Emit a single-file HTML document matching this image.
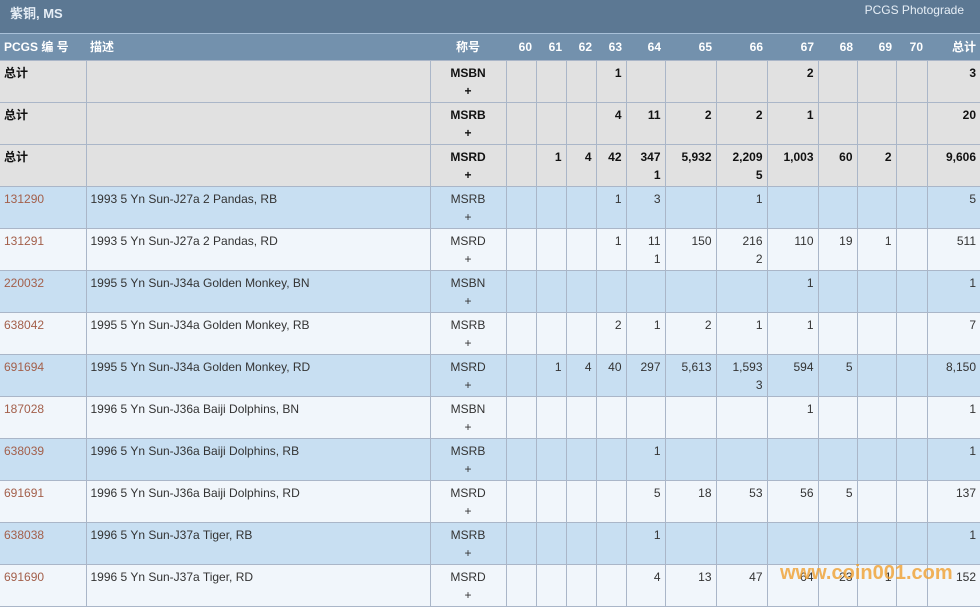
<!DOCTYPE html>
<html><head><meta charset="utf-8"><style>
body{margin:0;width:980px;height:606px;overflow:hidden;background:#f1f6fb;font-family:"Liberation Sans","Noto Sans CJK SC",sans-serif;font-size:12px;color:#333;position:relative}
.title{position:absolute;left:0;top:0;width:980px;height:34px;background:#5c7893;border-bottom:1px solid #a8c0d8;box-sizing:border-box}
.title .l{position:absolute;left:10px;top:3px;color:#e6eef6;font-weight:bold;font-size:13px}
.title .r{position:absolute;right:16px;top:3px;color:#e6eef6;font-size:12px}
table{position:absolute;left:0;top:34px;border-collapse:collapse;table-layout:fixed;width:980px}
th{background:#7391ad;color:#fff;height:26px;padding:0 4px;font-size:12px;text-align:right;vertical-align:middle;box-sizing:border-box}
th.l{text-align:left}th.c{text-align:center}
td{height:42px;box-sizing:border-box;border:1px solid #aab6c8;vertical-align:top;padding:3px 4px 0;text-align:right;line-height:18px}
tr.t td{background:#e1e1e1;font-weight:bold;color:#111}
tr.b td{background:#c8dff2}
tr.w td{background:#f1f6fb}
td.l{text-align:left}td.c{text-align:center}
td.a{color:#a35f4a}
td:first-child{border-left:none}td:last-child{border-right:none}
.wm{position:absolute;left:780px;top:562px;color:#f0a030;font-size:20px;font-weight:bold;opacity:.8}
</style></head><body>
<div class="title"><span class="l">紫铜, MS</span><span class="r">PCGS Photograde</span></div>
<table>
<colgroup><col style="width:86px"><col style="width:344px"><col style="width:76px"><col style="width:30px"><col style="width:30px"><col style="width:30px"><col style="width:30px"><col style="width:39px"><col style="width:51px"><col style="width:51px"><col style="width:51px"><col style="width:39px"><col style="width:39px"><col style="width:31px"><col style="width:53px"></colgroup>
<tr><th class="l">PCGS 编 号</th><th class="l">描述</th><th class="c">称号</th><th>60</th><th>61</th><th>62</th><th>63</th><th>64</th><th>65</th><th>66</th><th>67</th><th>68</th><th>69</th><th>70</th><th>总计</th></tr>
<tr class="t"><td class="l">总计</td><td></td><td class="c">MSBN<br>+</td><td></td><td></td><td></td><td>1</td><td></td><td></td><td></td><td>2</td><td></td><td></td><td></td><td>3</td></tr>
<tr class="t"><td class="l">总计</td><td></td><td class="c">MSRB<br>+</td><td></td><td></td><td></td><td>4</td><td>11</td><td>2</td><td>2</td><td>1</td><td></td><td></td><td></td><td>20</td></tr>
<tr class="t"><td class="l">总计</td><td></td><td class="c">MSRD<br>+</td><td></td><td>1</td><td>4</td><td>42</td><td>347<br>1</td><td>5,932</td><td>2,209<br>5</td><td>1,003</td><td>60</td><td>2</td><td></td><td>9,606</td></tr>
<tr class="b"><td class="l a">131290</td><td class="l">1993 5 Yn Sun-J27a 2 Pandas, RB</td><td class="c">MSRB<br>+</td><td></td><td></td><td></td><td>1</td><td>3</td><td></td><td>1</td><td></td><td></td><td></td><td></td><td>5</td></tr>
<tr class="w"><td class="l a">131291</td><td class="l">1993 5 Yn Sun-J27a 2 Pandas, RD</td><td class="c">MSRD<br>+</td><td></td><td></td><td></td><td>1</td><td>11<br>1</td><td>150</td><td>216<br>2</td><td>110</td><td>19</td><td>1</td><td></td><td>511</td></tr>
<tr class="b"><td class="l a">220032</td><td class="l">1995 5 Yn Sun-J34a Golden Monkey, BN</td><td class="c">MSBN<br>+</td><td></td><td></td><td></td><td></td><td></td><td></td><td></td><td>1</td><td></td><td></td><td></td><td>1</td></tr>
<tr class="w"><td class="l a">638042</td><td class="l">1995 5 Yn Sun-J34a Golden Monkey, RB</td><td class="c">MSRB<br>+</td><td></td><td></td><td></td><td>2</td><td>1</td><td>2</td><td>1</td><td>1</td><td></td><td></td><td></td><td>7</td></tr>
<tr class="b"><td class="l a">691694</td><td class="l">1995 5 Yn Sun-J34a Golden Monkey, RD</td><td class="c">MSRD<br>+</td><td></td><td>1</td><td>4</td><td>40</td><td>297</td><td>5,613</td><td>1,593<br>3</td><td>594</td><td>5</td><td></td><td></td><td>8,150</td></tr>
<tr class="w"><td class="l a">187028</td><td class="l">1996 5 Yn Sun-J36a Baiji Dolphins, BN</td><td class="c">MSBN<br>+</td><td></td><td></td><td></td><td></td><td></td><td></td><td></td><td>1</td><td></td><td></td><td></td><td>1</td></tr>
<tr class="b"><td class="l a">638039</td><td class="l">1996 5 Yn Sun-J36a Baiji Dolphins, RB</td><td class="c">MSRB<br>+</td><td></td><td></td><td></td><td></td><td>1</td><td></td><td></td><td></td><td></td><td></td><td></td><td>1</td></tr>
<tr class="w"><td class="l a">691691</td><td class="l">1996 5 Yn Sun-J36a Baiji Dolphins, RD</td><td class="c">MSRD<br>+</td><td></td><td></td><td></td><td></td><td>5</td><td>18</td><td>53</td><td>56</td><td>5</td><td></td><td></td><td>137</td></tr>
<tr class="b"><td class="l a">638038</td><td class="l">1996 5 Yn Sun-J37a Tiger, RB</td><td class="c">MSRB<br>+</td><td></td><td></td><td></td><td></td><td>1</td><td></td><td></td><td></td><td></td><td></td><td></td><td>1</td></tr>
<tr class="w"><td class="l a">691690</td><td class="l">1996 5 Yn Sun-J37a Tiger, RD</td><td class="c">MSRD<br>+</td><td></td><td></td><td></td><td></td><td>4</td><td>13</td><td>47</td><td>64</td><td>23</td><td>1</td><td></td><td>152</td></tr>
</table>
<div class="wm">www.coin001.com</div>
</body></html>
